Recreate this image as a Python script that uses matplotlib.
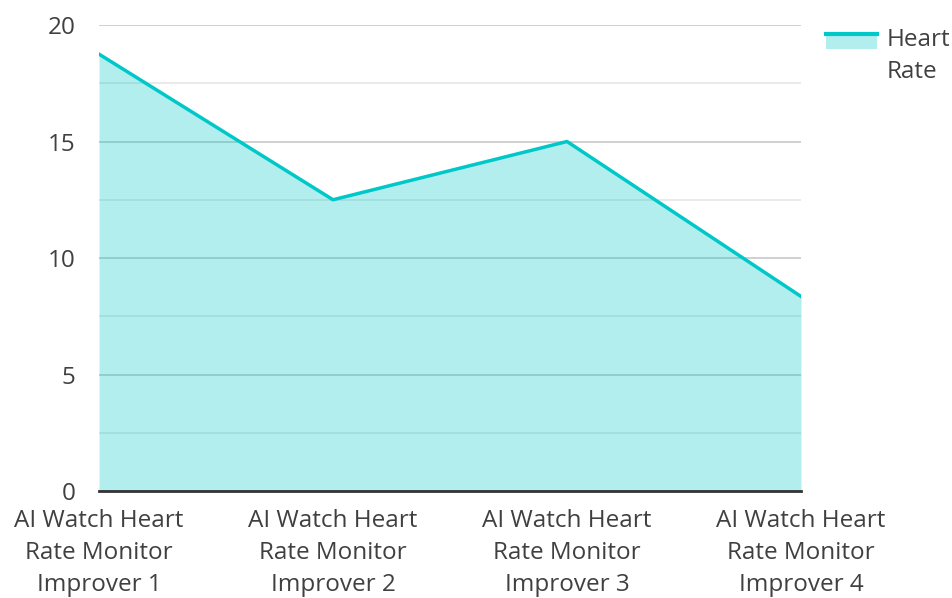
import matplotlib.pyplot as plt
from matplotlib.patches import Rectangle
from matplotlib.lines import Line2D
from matplotlib.legend_handler import HandlerBase
from matplotlib.ticker import MultipleLocator

categories = ["AI Watch Heart\nRate Monitor\nImprover 1",
              "AI Watch Heart\nRate Monitor\nImprover 2",
              "AI Watch Heart\nRate Monitor\nImprover 3",
              "AI Watch Heart\nRate Monitor\nImprover 4"]
heart_rate = [18.75, 12.5, 15.0, 8.35]

plt.rcParams['font.family'] = ['Open Sans', 'DejaVu Sans']
text_color = "#404040"
line_color = "#00c8c8"


class AreaHandler(HandlerBase):
    # filled box with the line along its top edge, lifted to the first text line
    def create_artists(self, legend, orig_handle, xdescent, ydescent,
                       width, height, fontsize, trans):
        lift = 0.62 * fontsize
        y0 = -ydescent + lift
        rect = Rectangle((-xdescent, y0), width, height,
                         facecolor=line_color, alpha=0.3, linewidth=0, transform=trans)
        top = y0 + height
        line = Line2D([-xdescent, -xdescent + width], [top, top],
                      color=line_color, linewidth=3, transform=trans)
        return [rect, line]


fig = plt.figure(figsize=(9.53, 5.98), dpi=100)
ax = fig.add_axes([0.1039, 0.1789, 0.7366, 0.7793])

x = list(range(len(categories)))
ax.fill_between(x, heart_rate, 0, color=line_color, alpha=0.3, linewidth=0, zorder=3)
area_line, = ax.plot(x, heart_rate, color=line_color, linewidth=2.5, zorder=4)

ax.set_xlim(0, len(categories) - 1)
ax.set_ylim(0, 20)
ax.yaxis.set_major_locator(MultipleLocator(5))
ax.yaxis.set_minor_locator(MultipleLocator(2.5))
ax.grid(which="major", axis="y", color="#c8c8c8", linewidth=1.2, zorder=1)
ax.grid(which="minor", axis="y", color="#e6e6e6", linewidth=1.2, zorder=1)
ax.set_axisbelow(True)

ax.set_xticks(x)
ax.set_xticklabels(categories, linespacing=1.43)
ax.tick_params(axis="both", which="both", length=0, labelsize=17.5, labelcolor=text_color)
ax.tick_params(axis="y", pad=17)
ax.tick_params(axis="x", pad=13)
for s in ["top", "right", "left"]:
    ax.spines[s].set_visible(False)
ax.spines["bottom"].set_color("#333333")
ax.spines["bottom"].set_linewidth(2)
ax.spines["bottom"].set_zorder(5)

leg = fig.legend([area_line], ["Heart\nRate"], handler_map={area_line: AreaHandler()},
                 loc="upper left", bbox_to_anchor=(0.8665, 0.953),
                 frameon=False, fontsize=17.5, labelcolor=text_color, handlelength=2.1,
                 handleheight=0.55, handletextpad=0.4, borderpad=0, borderaxespad=0)
leg.get_texts()[0].set_linespacing(1.43)

fig.savefig("out.png", dpi=100)
